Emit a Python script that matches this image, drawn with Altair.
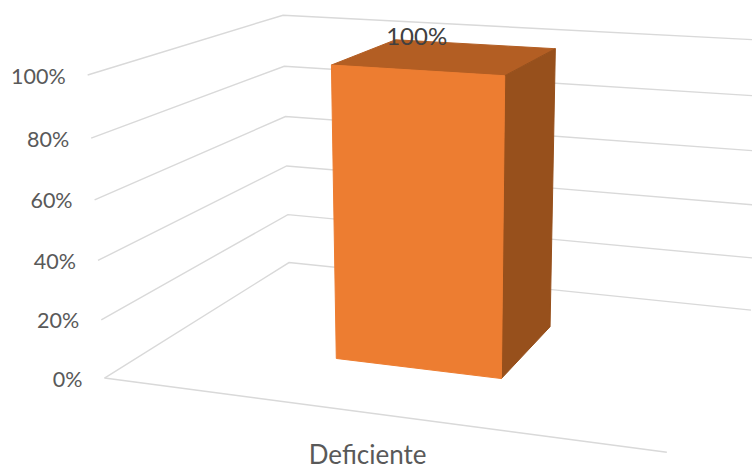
import altair as alt
import numpy as np
import pandas as pd

# Chart content
categories = ["Deficiente"]
values = [100]
levels = [0, 20, 40, 60, 80, 100]

CANVAS_W, CANVAS_H = 752, 468
FONT = "Lato"

# Camera calibration: (across, depth, level) -> pixel for the corners of the 3D frame
calibration = [
    (0, 0, 0, 105, 377.5),
    (0, 0, 20, 101, 320),
    (0, 0, 40, 97, 261),
    (0, 0, 60, 95, 200),
    (0, 0, 80, 91, 138),
    (0, 0, 100, 88, 75),
    (0, 1, 0, 289, 262.5),
    (0, 1, 20, 287.5, 214.5),
    (0, 1, 40, 287, 166),
    (0, 1, 60, 286, 116.5),
    (0, 1, 80, 284, 66.5),
    (0, 1, 100, 283, 15),
    (1, 1, 0, 751, 310.5),
    (1, 1, 100, 765, 40.2),
    (1, 0, 0, 667, 452),
]


def fit_camera(rows):
    a, b = [], []
    for u, d, lv, px, py in rows:
        h = lv / 100
        a.append([u, d, h, 1, 0, 0, 0, 0, -px * u, -px * d, -px * h])
        b.append(px)
        a.append([0, 0, 0, 0, u, d, h, 1, -py * u, -py * d, -py * h])
        b.append(py)
    p = np.linalg.lstsq(np.array(a, float), np.array(b, float), rcond=None)[0]
    return np.append(p, 1.0).reshape(3, 4)


CAMERA = fit_camera(calibration)


def project(u, d, level):
    x, y, w = CAMERA @ np.array([u, d, level / 100, 1.0])
    return float(x / w), float(y / w)


def floor_position(px, py):
    # Invert the camera on the floor plane
    h = CAMERA[:, [0, 1, 3]]
    u, d, w = np.linalg.solve(h, np.array([px, py, 1.0]))
    return float(u / w), float(d / w)


# Footprint of the column on the floor
u0, d0 = floor_position(336, 358.7)
u1, d0b = floor_position(501.7, 378.3)
u1b, d1 = floor_position(550, 326.7)
d0 = (d0 + d0b) / 2
u1 = (u1 + u1b) / 2

# Gridlines: left wall and back wall at each level, plus the front floor edge
grid_rows = []
for lv in levels:
    for seq, (u, d) in enumerate([(0, 0), (0, 1), (1, 1)]):
        x, y = project(u, d, lv)
        grid_rows.append({"line": f"g{lv}", "seq": seq, "x": x, "y": y})
for seq, (u, d) in enumerate([(0, 0), (1, 0)]):
    x, y = project(u, d, 0)
    grid_rows.append({"line": "floor", "seq": seq, "x": x, "y": y})
grid_df = pd.DataFrame(grid_rows)

# Value-axis labels sit left of the front corner of each gridline
tick_df = pd.DataFrame(
    [
        {"label": f"{lv}%", "x": project(0, 0, lv)[0], "y": project(0, 0, lv)[1]}
        for lv in levels
    ]
)

top = values[0]
faces = {
    "top": [(u0, d0, top), (u1, d0, top), (u1, d1, top), (u0, d1, top)],
    "side": [(u1, d0, 0), (u1, d1, 0), (u1, d1, top), (u1, d0, top)],
    "front": [(u0, d0, 0), (u1, d0, 0), (u1, d0, top), (u0, d0, top)],
}
face_colors = {"top": "#B35E23", "side": "#97501C", "front": "#ED7D31"}


def face_frame(corners):
    pts = [project(*c) for c in corners] + [project(*corners[0])]
    return pd.DataFrame(
        [{"seq": i, "x": p[0], "y": p[1]} for i, p in enumerate(pts)]
    )


x_scale = alt.Scale(domain=[0, CANVAS_W], range=[0, CANVAS_W], nice=False, zero=False)
y_scale = alt.Scale(domain=[0, CANVAS_H], range=[0, CANVAS_H], nice=False, zero=False)
X = alt.X("x:Q", scale=x_scale, axis=None)
Y = alt.Y("y:Q", scale=y_scale, axis=None)

grid = (
    alt.Chart(grid_df)
    .mark_line(color="#D9D9D9", strokeWidth=1.4, clip=True)
    .encode(x=X, y=Y, detail="line:N", order="seq:Q")
)

tick_labels = (
    alt.Chart(tick_df)
    .mark_text(align="right", baseline="middle", font=FONT, fontSize=21.5, color="#595959", dx=-22, dy=2.5)
    .encode(x=X, y=Y, text="label:N")
)

face_layers = [
    alt.Chart(face_frame(faces[name]))
    .mark_line(
        fill=face_colors[name],
        color=face_colors[name],
        strokeWidth=1,
        clip=True,
    )
    .encode(x=X, y=Y, order="seq:Q")
    for name in ["top", "side", "front"]
]

# Data label near the top of the column
cx, cy = project((u0 + u1) / 2, (d0 + d1) / 2, top)
value_df = pd.DataFrame([{"x": cx, "y": cy, "label": f"{top}%"}])
value_label = (
    alt.Chart(value_df)
    .mark_text(align="center", baseline="middle", font=FONT, fontSize=24, color="#404040", dx=-30, dy=-19)
    .encode(x=X, y=Y, text="label:N")
)

# Category label under the front floor edge
fx, fy = project((u0 + u1) / 2, 0, 0)
cat_df = pd.DataFrame([{"x": fx, "y": fy, "label": categories[0]}])
cat_label = (
    alt.Chart(cat_df)
    .mark_text(align="center", baseline="middle", font=FONT, fontSize=26, color="#595959", dx=-1, dy=43)
    .encode(x=X, y=Y, text="label:N")
)

chart = (
    alt.layer(grid, *face_layers, tick_labels, value_label, cat_label)
    .properties(
        width=CANVAS_W,
        height=CANVAS_H,
        padding=0,
        background="#FFFFFF",
        autosize=alt.AutoSizeParams(type="none"),
    )
    .configure_view(stroke=None)
)

chart.save("out.html", embed_options={"renderer": "svg", "actions": False})
